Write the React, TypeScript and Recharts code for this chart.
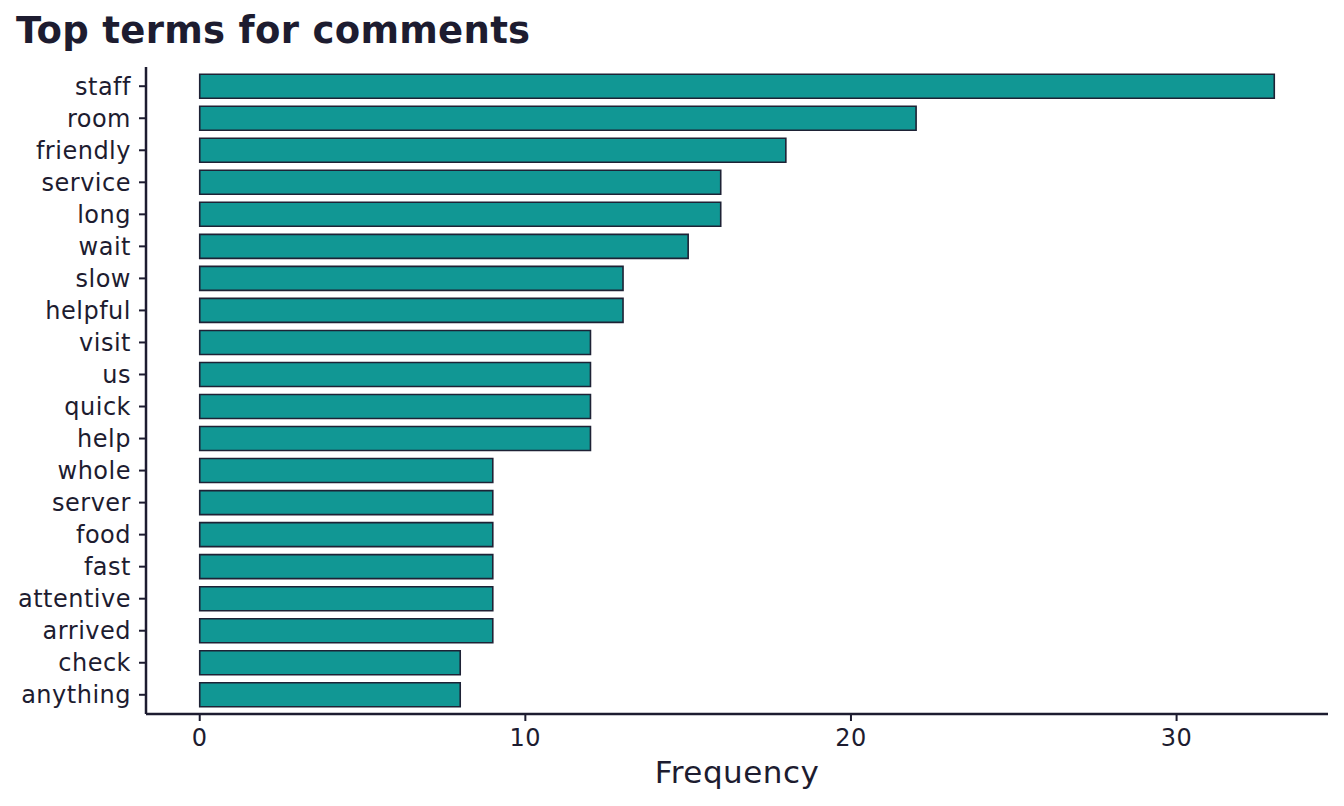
import { BarChart, Bar, XAxis, YAxis, Label } from 'recharts';

const terms = [
  'staff', 'room', 'friendly', 'service', 'long', 'wait', 'slow', 'helpful', 'visit', 'us',
  'quick', 'help', 'whole', 'server', 'food', 'fast', 'attentive', 'arrived', 'check', 'anything',
];
const counts = [33, 22, 18, 16, 16, 15, 13, 13, 12, 12, 12, 12, 9, 9, 9, 9, 9, 9, 8, 8];
const xTicks = [0, 10, 20, 30];

const INK = '#1d1c30';
const FONT = '"DejaVu Sans", sans-serif';

const data = terms.map((term, i) => ({ term, n: counts[i] }));

const tickStyle = { fill: INK, fontSize: 24, fontFamily: FONT, letterSpacing: 0.5 };

export default function App() {
  return (
    <div style={{ position: 'absolute', left: 0, top: 0, width: 1344, height: 806, background: '#fff', fontFamily: FONT }}>
      <svg width={1344} height={60} style={{ position: 'absolute', left: 0, top: 0 }}>
        <text x={16} y={43} fontSize={37} fontWeight="bold" fill={INK} fontFamily={FONT} letterSpacing={0.3}>
          Top terms for comments
        </text>
      </svg>
      <div style={{ position: 'absolute', left: 0, top: 0 }}>
        <BarChart
          width={1344}
          height={806}
          data={data}
          layout="vertical"
          margin={{ top: 67, right: 16, bottom: 0, left: 0 }}
        >
          <XAxis
            type="number"
            dataKey="n"
            domain={[-1.65, 34.65]}
            ticks={xTicks}
            allowDataOverflow
            height={92}
            tickSize={7}
            tickMargin={8}
            axisLine={{ stroke: INK, strokeWidth: 2.5 }}
            tickLine={{ stroke: INK, strokeWidth: 2 }}
            tick={tickStyle}
          >
            <Label
              value="Frequency"
              position="insideBottom"
              offset={23}
              style={{ fill: INK, fontSize: 31, fontFamily: FONT, letterSpacing: 0.5 }}
            />
          </XAxis>
          <YAxis
            type="category"
            dataKey="term"
            width={146}
            padding={{ top: 3.2, bottom: 3.2 }}
            tickSize={7}
            tickMargin={8}
            interval={0}
            axisLine={{ stroke: INK, strokeWidth: 2.5 }}
            tickLine={{ stroke: INK, strokeWidth: 2 }}
            tick={tickStyle}
          />
          <Bar
            dataKey="n"
            barSize={24}
            fill="#119794"
            stroke="#1e2235"
            strokeWidth={1.6}
            isAnimationActive={false}
          />
        </BarChart>
      </div>
    </div>
  );
}
